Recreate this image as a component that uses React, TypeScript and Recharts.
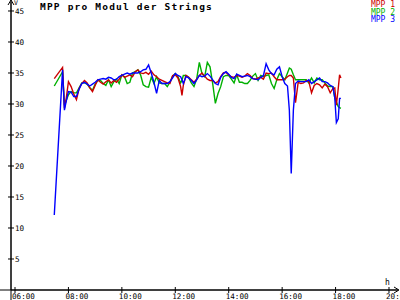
import React from 'react';
import { LineChart, Line, XAxis, YAxis, Legend } from 'recharts';

// time of day in hours
const times = [
  7.47, 7.78, 7.85, 7.92, 8.0, 8.1, 8.2, 8.3, 8.4, 8.5,
  8.6, 8.7, 8.8, 8.9, 9.0, 9.1, 9.2, 9.3, 9.4, 9.5,
  9.6, 9.7, 9.8, 9.9, 10.0, 10.1, 10.2, 10.3, 10.4, 10.5,
  10.6, 10.7, 10.8, 10.9, 11.0, 11.1, 11.2, 11.3, 11.4, 11.5,
  11.6, 11.7, 11.8, 11.9, 12.0, 12.1, 12.2, 12.25, 12.3, 12.4,
  12.5, 12.6, 12.7, 12.8, 12.9, 13.0, 13.1, 13.2, 13.3, 13.4,
  13.5, 13.6, 13.7, 13.8, 13.9, 14.0, 14.1, 14.2, 14.3, 14.4,
  14.5, 14.6, 14.7, 14.8, 14.9, 15.0, 15.1, 15.2, 15.3, 15.4,
  15.5, 15.6, 15.7, 15.8, 15.9, 16.0, 16.1, 16.2, 16.27, 16.34,
  16.42, 16.5, 16.6, 16.7, 16.8, 16.9, 17.0, 17.1, 17.2, 17.3,
  17.4, 17.5, 17.6, 17.7, 17.8, 17.9, 17.97, 18.03, 18.1, 18.15,
  18.2,
];

const mpp1 = [
  34.1, 35.9, 29.3, 31.0, 33.6, 32.8, 31.6, 30.7, 32.5, 33.3,
  33.8, 33.4, 32.6, 32.0, 33.0, 33.9, 33.5, 33.2, 33.6, 33.9,
  33.4, 33.8, 33.5, 34.0, 34.7, 34.3, 34.5, 34.7, 34.4, 35.2,
  35.5, 35.0, 34.9, 35.1, 34.8, 35.3, 34.7, 34.4, 34.0, 33.8,
  33.6, 33.4, 33.3, 34.6, 34.7, 34.2, 32.8, 31.4, 33.0, 34.6,
  34.3, 33.9, 33.5, 34.0, 34.6, 35.0, 34.5, 34.0, 33.8, 33.8,
  33.4, 33.6, 34.4, 35.0, 35.1, 34.7, 34.4, 34.3, 34.6, 34.5,
  34.3, 34.5, 34.9, 34.6, 34.1, 34.0, 34.2, 34.3, 34.0, 35.0,
  34.9, 35.0, 34.4, 33.9, 33.9, 33.9, 34.0, 34.4, 34.6, 34.6,
  34.2, 30.2, 33.5, 33.3, 33.4, 33.8, 33.6, 31.8, 33.0, 33.3,
  33.1, 32.6, 33.2, 32.8, 31.8, 32.5, 32.6, 29.8, 32.5, 34.7,
  34.2,
];

const mpp2 = [
  32.9, 35.2, 29.8, 30.6, 31.5, 32.0, 31.8, 31.8, 32.6, 33.4,
  33.4, 33.2, 32.6, 32.2, 33.2, 33.8, 33.8, 33.3, 33.0, 33.9,
  32.8, 33.6, 34.0, 33.3, 34.7, 34.4, 33.3, 33.5, 35.0, 35.2,
  35.5, 34.7, 33.1, 32.8, 32.7, 34.3, 33.3, 34.4, 33.4, 33.3,
  33.3, 32.8, 33.5, 34.5, 34.9, 34.4, 33.4, 33.8, 34.6, 34.6,
  34.3, 33.4, 32.8, 34.0, 36.7, 34.9, 34.4, 36.7, 36.0, 33.3,
  30.1, 31.7, 32.8, 34.4, 34.6, 34.6, 34.0, 33.4, 34.7, 33.5,
  33.5, 33.3, 33.3, 33.8, 34.5, 34.9, 33.8, 34.6, 34.4, 34.6,
  34.7, 33.3, 32.5, 33.9, 34.9, 34.4, 33.9, 35.0, 35.8, 35.6,
  34.7, 33.9, 33.9, 33.9, 33.9, 33.9, 33.4, 34.2, 33.4, 34.2,
  33.9, 33.9, 33.4, 32.9, 32.8, 32.8, 31.0, 30.3, 29.6, 29.4,
  29.3,
];

const mpp3 = [
  12.1, 35.5, 29.0, 30.5, 32.0, 31.9, 31.2, 31.2, 32.4, 33.3,
  33.5, 33.2, 32.9, 33.2, 33.5, 33.9, 34.0, 34.1, 34.0, 34.3,
  34.2, 33.9, 34.0, 34.4, 34.6, 34.8, 35.0, 34.8, 35.0, 35.0,
  35.0, 35.2, 35.5, 35.6, 36.3, 35.0, 33.5, 31.7, 33.8, 33.3,
  33.3, 33.3, 33.6, 34.2, 34.9, 34.6, 34.4, 33.9, 33.3, 34.4,
  34.2, 33.8, 33.3, 33.9, 34.6, 34.4, 34.5, 34.9, 34.5, 33.9,
  33.3, 33.1, 34.3, 34.9, 35.2, 34.8, 34.3, 34.1, 34.8, 34.6,
  34.4, 34.5, 34.6, 34.4, 34.1, 34.0, 33.9, 34.3, 34.6, 36.5,
  35.5, 34.9, 34.7, 35.6, 36.0, 34.4, 33.3, 32.9, 29.0, 18.8,
  29.0, 33.3, 33.7, 33.6, 33.6, 33.6, 33.9, 33.3, 33.6, 33.9,
  34.2, 33.6, 33.6, 33.4, 33.0, 32.8, 31.0, 27.0, 27.6, 30.9,
  30.9,
];

const xTicks = [6, 8, 10, 12, 14, 16, 18, 20];
const yTicks = [5, 10, 15, 20, 25, 30, 35, 40, 45];
const seriesNames = ['MPP 1', 'MPP 2', 'MPP 3'];
const title = 'MPP pro Modul der Strings';
const xUnit = 'h';
const yUnit = 'V';

const RED = '#cc0000';
const GREEN = '#00b000';
const BLUE = '#0000ff';
const MONO = '"DejaVu Sans Mono", "Liberation Mono", monospace';

const data = times.map((t, i) => ({ t, mpp1: mpp1[i], mpp2: mpp2[i], mpp3: mpp3[i] }));

const fmtHour = (h: number) => `${String(h).padStart(2, '0')}:00`;

const XTick = (props: any) => {
  const { x, y, payload } = props;
  return (
    <g>
      <line x1={x} x2={x} y1={y - 3} y2={y + 3} stroke="#000" strokeWidth={1} />
      <text x={x - 3} y={y + 8.5} fontSize={7.6} fontFamily={MONO} fill="#000" textAnchor="start">
        {fmtHour(payload.value)}
      </text>
    </g>
  );
};

const YTick = (props: any) => {
  const { x, y, payload } = props;
  return (
    <g>
      <line x1={x - 3} x2={x + 3} y1={y} y2={y} stroke="#000" strokeWidth={1} />
      <text x={x + 4} y={y + 2.8} fontSize={7.6} fontFamily={MONO} fill="#000" textAnchor="start">
        {payload.value}
      </text>
    </g>
  );
};

const XDecor = (props: any) => {
  const vb = props.viewBox || {};
  const x0 = vb.x ?? 11;
  const y0 = vb.y ?? 290;
  const w = vb.width ?? 387;
  const xe = x0 + w;
  return (
    <g>
      <line x1={0} x2={xe} y1={y0} y2={y0} stroke="#000" strokeWidth={1} />
      <polyline points={`${xe - 4},${y0 - 3} ${xe + 1},${y0} ${xe - 4},${y0 + 3}`} fill="none" stroke="#000" strokeWidth={1} />
      <text x={xe - 13} y={y0 - 5} fontSize={8} fontFamily={MONO} fill="#000">{xUnit}</text>
    </g>
  );
};

const YDecor = (props: any) => {
  const vb = props.viewBox || {};
  const y0 = vb.y ?? 2;
  const h = vb.height ?? 288;
  const xa = (vb.x ?? 0) + (vb.width ?? 11);
  return (
    <g>
      <line x1={xa} x2={xa} y1={y0 - 2} y2={y0 + h + 10} stroke="#000" strokeWidth={1} />
      <polyline points={`${xa - 3},${y0 + 3} ${xa},${y0 - 2} ${xa + 3},${y0 + 3}`} fill="none" stroke="#000" strokeWidth={1} />
      <text x={xa + 3} y={y0 + 3} fontSize={6.5} fontFamily={MONO} fill="#000">{yUnit}</text>
    </g>
  );
};

const LegendContent = (props: any) => {
  const items = [...(props.payload || [])].sort((a: any, b: any) =>
    String(a.value).localeCompare(String(b.value))
  );
  return (
    <div style={{ fontFamily: MONO, fontSize: 8, lineHeight: '7.5px', textAlign: 'right' }}>
      {items.map((it: any) => (
        <div key={it.value} style={{ color: it.color, height: 7.5, whiteSpace: 'pre' }}>{it.value}</div>
      ))}
    </div>
  );
};

export default function App() {
  return (
    <div style={{ position: 'absolute', left: 0, top: 0, width: 400, height: 300, background: '#fff' }}>
      <LineChart
        width={400}
        height={300}
        data={data}
        margin={{ top: 2, right: 2, left: 0, bottom: 0 }}
      >
        <XAxis
          dataKey="t"
          type="number"
          domain={[5.85, 20.337]}
          ticks={xTicks}
          height={10}
          tickSize={0}
          tickMargin={0}
          tickLine={false}
          axisLine={{ stroke: '#000' }}
          tick={<XTick />}
          interval={0}
          label={{ content: <XDecor /> }}
        />
        <YAxis
          type="number"
          domain={[0, 46.45]}
          ticks={yTicks}
          width={11}
          tickSize={0}
          tickMargin={0}
          tickLine={false}
          axisLine={{ stroke: '#000' }}
          tick={<YTick />}
          interval={0}
          label={{ content: <YDecor /> }}
        />
        <Legend
          layout="horizontal"
          verticalAlign="middle"
          align="center"
          content={<LegendContent />}
          wrapperStyle={{ top: 1, right: 5, left: 'auto', width: 'auto', height: 'auto' }}
        />
        <Line type="linear" dataKey="mpp2" name={seriesNames[1]} stroke={GREEN} strokeWidth={1.4} dot={false} isAnimationActive={false} />
        <Line type="linear" dataKey="mpp1" name={seriesNames[0]} stroke={RED} strokeWidth={1.4} dot={false} isAnimationActive={false} />
        <Line type="linear" dataKey="mpp3" name={seriesNames[2]} stroke={BLUE} strokeWidth={1.4} dot={false} isAnimationActive={false} />
      </LineChart>
      <div
        style={{
          position: 'absolute',
          left: 40,
          top: 1.5,
          fontFamily: MONO,
          fontWeight: 'bold',
          fontSize: 9.5,
          letterSpacing: '1.2px',
          lineHeight: '10px',
          whiteSpace: 'pre',
          color: '#000',
        }}
      >
        {title}
      </div>
    </div>
  );
}
